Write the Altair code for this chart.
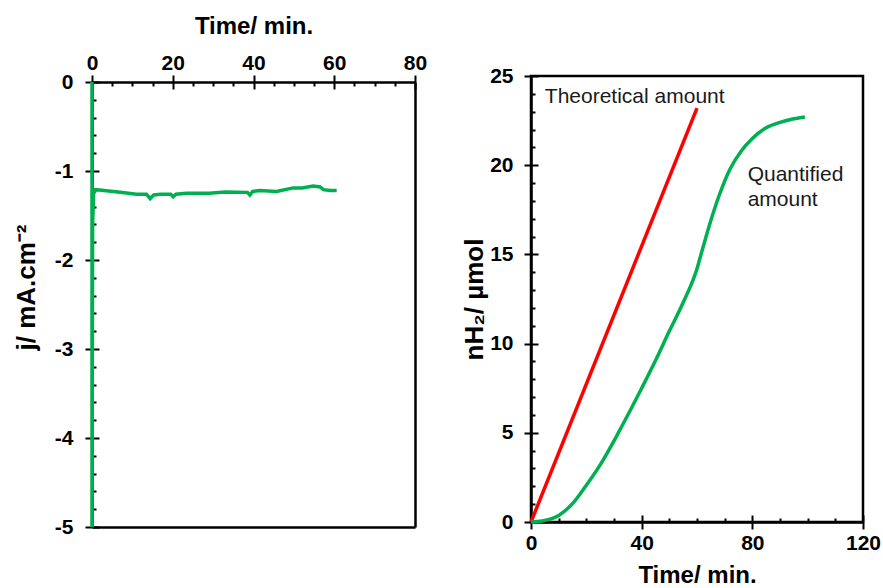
import altair as alt
import pandas as pd

# ---------------- data ----------------
# Left panel: chronoamperometry (current density vs time)
t_cur = [0, 0, 0.15, 0.4, 1, 3, 7, 11, 13.5, 14.4, 15.3, 17, 19.5, 20.1, 20.8,
         23.4, 29, 33, 38.5, 39.1, 39.8, 41.6, 45.7, 49.8, 52, 54.8, 56.5, 57.3, 59, 60.6]
j_cur = [0, -5, -1.6, -1.25, -1.21, -1.22, -1.24, -1.26, -1.26, -1.31, -1.27, -1.26, -1.26, -1.29, -1.26,
         -1.25, -1.25, -1.235, -1.24, -1.27, -1.23, -1.22, -1.23, -1.19, -1.19, -1.17, -1.18, -1.21, -1.22, -1.22]

# Right panel: hydrogen amount
t_theo = [0, 60]
n_theo = [0, 23.2]
t_quant = [0, 4, 10, 15, 20, 25, 30, 35, 40, 45, 50, 55, 60, 62, 65, 68, 72, 76, 80, 85, 90, 95, 99]
n_quant = [0, 0.06, 0.37, 1.03, 2.06, 3.2, 4.55, 6.0, 7.5, 9.05, 10.7, 12.3, 14.2, 15.3, 16.9, 18.3,
           19.8, 20.8, 21.5, 22.1, 22.4, 22.6, 22.7]

# annotations
ann_text = ["Theoretical amount", "Quantified", "amount"]
ann_t = [5, 78.3, 78.3]
ann_n = [23.5, 19.1, 17.7]

# axis ticks
left_x_major = [0, 20, 40, 60, 80]
left_x_minor = [v for v in range(0, 81, 5) if v % 20 != 0]
left_y_major = [-5, -4, -3, -2, -1, 0]
left_y_minor = [round(-5 + 0.2 * i, 1) for i in range(26) if i % 5 != 0]
right_x_major = [0, 40, 80, 120]
right_x_minor = [v for v in range(0, 121, 10) if v % 40 != 0]
right_y_major = [0, 5, 10, 15, 20, 25]
right_y_minor = [v for v in range(0, 26) if v % 5 != 0]

GREEN = "#00b050"
RED = "#ff0000"
FONT = "Liberation Sans"
MAJ = 7
MIN = 4
DROP = 6  # left panel plot area sits slightly lower than the right one
HYPHEN_LABEL = "datum.value < 0 ? '-' + abs(datum.value) : '' + datum.value"

df_cur = pd.DataFrame({"t": t_cur, "j": j_cur, "o": list(range(len(t_cur)))})
df_theo = pd.DataFrame({"t": t_theo, "n": n_theo})
df_quant = pd.DataFrame({"t": t_quant, "n": n_quant})
df_ann = pd.DataFrame({"label": ann_text, "t": ann_t, "n": ann_n})


def main_axis(orient, values, title, title_pad, label_pad, offset=0, title_size=24, **kw):
    return alt.Axis(orient=orient, values=values, title=title, tickSize=MAJ, tickWidth=2,
                    tickColor="black", domainColor="black", domainWidth=2.5, offset=offset,
                    labelFont=FONT, labelFontSize=21, labelFontWeight="bold", labelColor="black",
                    labelPadding=label_pad, labelExpr=HYPHEN_LABEL,
                    titleFont=FONT, titleFontSize=title_size,
                    titleFontWeight="bold", titleColor="black", titlePadding=title_pad,
                    grid=False, labelOverlap=False, labelFlush=False, **kw)


def inner_axis(orient, values, size, extra=0):
    return alt.Axis(orient=orient, values=values, title=None, tickSize=size, tickWidth=2,
                    tickColor="black", offset=-(size + extra), domain=False, labels=False, grid=False)


def frame_axis(orient):
    return alt.Axis(orient=orient, title=None, ticks=False, labels=False, grid=False,
                    domain=True, domainColor="black", domainWidth=2.5)


# ---------------- left panel ----------------
LH = 451
xs_l = alt.Scale(domain=[0, 80], nice=False, zero=False)
ys_l = alt.Scale(domain=[-5, 0], nice=False, zero=False, range=[LH, DROP])

left_line = alt.Chart(df_cur).mark_line(color=GREEN, strokeWidth=3.5, clip=False).encode(
    x=alt.X("t:Q", scale=xs_l, axis=main_axis("top", left_x_major, "Time/ min.", 14, 2, -DROP)),
    y=alt.Y("j:Q", scale=ys_l, axis=main_axis("left", left_y_major, "j/ mA.cm⁻²", 15, 12,
                                              title_size=26, titleY=211)),
    order="o:Q",
)
left_inner_major = alt.Chart(df_cur).mark_point(opacity=0).encode(
    x=alt.X("t:Q", scale=xs_l, axis=inner_axis("top", left_x_major, MAJ, DROP)),
    y=alt.Y("j:Q", scale=ys_l, axis=inner_axis("left", left_y_major, MAJ)),
)
left_inner_minor = alt.Chart(df_cur).mark_point(opacity=0).encode(
    x=alt.X("t:Q", scale=xs_l, axis=inner_axis("top", left_x_minor, MIN, DROP)),
    y=alt.Y("j:Q", scale=ys_l, axis=inner_axis("left", left_y_minor, MIN)),
)
left_frame = alt.Chart(df_cur).mark_point(opacity=0).encode(
    x=alt.X("t:Q", scale=xs_l, axis=frame_axis("bottom")),
    y=alt.Y("j:Q", scale=ys_l, axis=frame_axis("right")),
)
left = alt.layer(left_frame, left_inner_minor, left_inner_major, left_line).resolve_axis(
    x="independent", y="independent"
).properties(width=323, height=LH, view=alt.ViewBackground(stroke="transparent"))

# ---------------- right panel ----------------
xs_r = alt.Scale(domain=[0, 120], nice=False, zero=False)
ys_r = alt.Scale(domain=[0, 25], nice=False, zero=False)

theo = alt.Chart(df_theo).mark_line(color=RED, strokeWidth=3.5).encode(
    x=alt.X("t:Q", scale=xs_r, axis=main_axis("bottom", right_x_major, "Time/ min.", 10, 3)),
    y=alt.Y("n:Q", scale=ys_r, axis=main_axis("left", right_y_major, "nH₂/ µmol", 2, 11,
                                              title_size=26)),
)
quant = alt.Chart(df_quant).mark_line(color=GREEN, strokeWidth=3.5, interpolate="monotone").encode(
    x=alt.X("t:Q", scale=xs_r, axis=None),
    y=alt.Y("n:Q", scale=ys_r, axis=None),
)
ann = alt.Chart(df_ann).mark_text(align="left", baseline="alphabetic", font=FONT, fontSize=21,
                                  color="#1a1a1a").encode(
    x=alt.X("t:Q", scale=xs_r, axis=None),
    y=alt.Y("n:Q", scale=ys_r, axis=None),
    text="label:N",
)
right_inner_major = alt.Chart(df_quant).mark_point(opacity=0).encode(
    x=alt.X("t:Q", scale=xs_r, axis=inner_axis("bottom", right_x_major, MAJ)),
    y=alt.Y("n:Q", scale=ys_r, axis=inner_axis("left", right_y_major, MAJ)),
)
right_inner_minor = alt.Chart(df_quant).mark_point(opacity=0).encode(
    x=alt.X("t:Q", scale=xs_r, axis=inner_axis("bottom", right_x_minor, MIN)),
    y=alt.Y("n:Q", scale=ys_r, axis=inner_axis("left", right_y_minor, MIN)),
)
right = alt.layer(right_inner_minor, right_inner_major, theo, quant, ann).resolve_axis(
    x="independent", y="independent"
).properties(width=332, height=446)

chart = alt.hconcat(left, right, spacing=116, bounds="flush").properties(
    padding={"left": 12, "top": 12, "right": 0, "bottom": 0},
    background="white",
).configure_view(stroke="black", strokeWidth=2.5)

chart.save("out.html", embed_options={"renderer": "svg", "actions": False})
